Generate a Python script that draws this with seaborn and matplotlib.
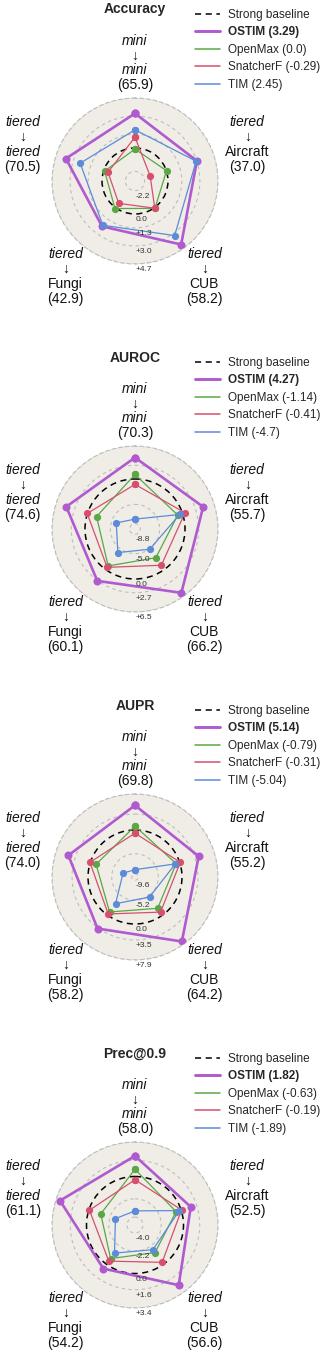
import numpy as np
import pandas as pd
import matplotlib
matplotlib.use('Agg')
import matplotlib.pyplot as plt
from matplotlib.lines import Line2D
import seaborn as sns

sns.set_style('white')
plt.rcParams['font.family'] = ['Liberation Sans', 'DejaVu Sans']

# ---------------- data ----------------
source = ['mini', 'tiered', 'tiered', 'tiered', 'tiered']
target = ['mini', 'Aircraft', 'CUB', 'Fungi', 'tiered']
metrics = ['Accuracy', 'AUROC', 'AUPR', 'Prec@0.9']
methods = ['OSTIM', 'OpenMax', 'SnatcherF', 'TIM']

baseline_accuracy = [65.9, 37.0, 58.2, 42.9, 70.5]
baseline_auroc = [70.3, 55.7, 66.2, 60.1, 74.6]
baseline_aupr = [69.8, 55.2, 64.2, 58.2, 74.0]
baseline_prec = [58.0, 52.5, 56.6, 54.2, 61.1]

# improvement over the strong baseline, order: mini, Aircraft, CUB, Fungi, tiered
ostim_accuracy = [3.25, 3.02, 4.28, 2.17, 3.73]
openmax_accuracy = [-0.1, 0.02, 0.08, 0.1, -0.1]
snatcher_accuracy = [1.02, -1.6, 0.06, -0.5, -0.43]
tim_accuracy = [1.71, 2.94, 3.24, 2.04, 2.32]

ostim_auroc = [4.23, 4.27, 5.69, 2.78, 4.38]
openmax_auroc = [0.9, -1.0, -2.86, -0.85, -1.89]
snatcher_auroc = [-1.06, 0.49, -1.02, -0.51, 0.05]
tim_auroc = [-7.9, -0.6, -4.93, -4.1, -5.97]

ostim_aupr = [5.41, 4.38, 7.18, 3.67, 5.06]
openmax_aupr = [0.85, -0.82, -1.83, -0.82, -1.33]
snatcher_aupr = [-0.69, 0.12, -0.78, -0.29, 0.09]
tim_aupr = [-8.7, -1.01, -4.88, -3.06, -7.55]

ostim_prec = [2.03, 1.0, 2.55, 0.53, 2.99]
openmax_prec = [0.71, -0.52, -1.42, -0.69, -1.23]
snatcher_prec = [-0.32, 0.04, -0.23, -0.38, -0.06]
tim_prec = [-3.39, -0.18, -1.78, -1.35, -2.75]

ticks_accuracy = [-2.2, 0.0, 1.3, 3.0, 4.7]
ticks_auroc = [-8.8, -5.0, 0.0, 2.7, 6.5]
ticks_aupr = [-9.6, -5.2, 0.0, 3.5, 7.9]
ticks_prec = [-4.0, -2.2, 0.0, 1.6, 3.4]

baselines = {'Accuracy': baseline_accuracy, 'AUROC': baseline_auroc,
             'AUPR': baseline_aupr, 'Prec@0.9': baseline_prec}
series = {
    'Accuracy': {'OSTIM': ostim_accuracy, 'OpenMax': openmax_accuracy,
                 'SnatcherF': snatcher_accuracy, 'TIM': tim_accuracy},
    'AUROC': {'OSTIM': ostim_auroc, 'OpenMax': openmax_auroc,
              'SnatcherF': snatcher_auroc, 'TIM': tim_auroc},
    'AUPR': {'OSTIM': ostim_aupr, 'OpenMax': openmax_aupr,
             'SnatcherF': snatcher_aupr, 'TIM': tim_aupr},
    'Prec@0.9': {'OSTIM': ostim_prec, 'OpenMax': openmax_prec,
                 'SnatcherF': snatcher_prec, 'TIM': tim_prec},
}
ticks = {'Accuracy': ticks_accuracy, 'AUROC': ticks_auroc,
         'AUPR': ticks_aupr, 'Prec@0.9': ticks_prec}

# ---------------- layout / style ----------------
FIG_W, FIG_H = 332, 1354
R_PX = 83
CX = 135
centers = [181 + 348 * i for i in range(4)]
rlim_inner = [-3.10, -9.85, -10.31, -4.78]

colors = {'OSTIM': '#b05ad0', 'OpenMax': '#5aa745',
          'SnatcherF': '#d6506e', 'TIM': '#5b8bd9'}
lws = {'OSTIM': 1.9, 'OpenMax': 0.9, 'SnatcherF': 0.9, 'TIM': 0.9}
mss = {'OSTIM': 5.8, 'OpenMax': 5.2, 'SnatcherF': 5.2, 'TIM': 5.2}
BG = '#f0ede6'
GRID = '#bdbdbd'
DASH_BASE = (0, (4, 3))

fig = plt.figure(figsize=(FIG_W / 100, FIG_H / 100), dpi=100)
angles = np.arange(5) * 2 * np.pi / 5
theta_closed = np.append(angles, angles[0])


def fmt_mean(v):
    return str(round(float(np.mean(v)), 2) + 0.0)


for i, metric in enumerate(metrics):
    cy = centers[i]
    ax = fig.add_axes([(CX - R_PX) / FIG_W, 1 - (cy + R_PX) / FIG_H,
                       2 * R_PX / FIG_W, 2 * R_PX / FIG_H], projection='polar')
    ax.set_theta_offset(np.pi / 2)
    ax.set_theta_direction(-1)
    tk = ticks[metric]
    rmax = tk[-1]
    c = rlim_inner[i]

    for m in methods:
        vals = series[metric][m]
        df = pd.DataFrame({'theta': theta_closed, 'delta': vals + [vals[0]]})
        sns.lineplot(data=df, x='theta', y='delta', sort=False, estimator=None,
                     color=colors[m], linewidth=lws[m], marker='o',
                     markersize=mss[m], markeredgewidth=0, ax=ax,
                     legend=False, zorder=3)
    ax.set_xlabel('')
    ax.set_ylabel('')
    ax.set_xlim(0, 2 * np.pi)
    ax.set_ylim(c, rmax)
    ax.set_facecolor(BG)
    ax.set_xticks(angles)
    ax.set_xticklabels([])
    ax.xaxis.grid(False)
    ax.set_yticks(tk)
    ax.set_yticklabels([])
    ax.yaxis.grid(True)
    ax.tick_params(length=0)
    for t, gl in zip(tk, ax.yaxis.get_gridlines()):
        if t == 0:
            gl.set_color('black')
            gl.set_linestyle(DASH_BASE)
            gl.set_linewidth(1.1)
        else:
            gl.set_color(GRID)
            gl.set_linestyle((0, (3, 3)))
            gl.set_linewidth(0.8)
    ax.spines['polar'].set_color(GRID)
    ax.spines['polar'].set_linestyle((0, (3, 3)))
    ax.spines['polar'].set_linewidth(0.8)

    # radial tick labels
    for t in tk:
        lab = '0.0' if t == 0 else (f'+{t:.1f}' if t > 0 else f'{t:.1f}')
        ax.annotate(lab, xy=(np.pi, t), xytext=(0.5, -1.5),
                    textcoords='offset points', ha='left', va='top',
                    fontsize=6, color='#333333', annotation_clip=False, zorder=5)

    # axis labels
    rlab = c + 118 / 83 * (rmax - c)
    base = baselines[metric]
    for k in range(5):
        rows = [(source[k], 'italic'), ('\u2193', 'normal'),
                (target[k], 'italic' if target[k] in ('mini', 'tiered') else 'normal'),
                (f'({base[k]:.1f})', 'normal')]
        for j, (txt, st) in enumerate(rows):
            ax.annotate(txt, xy=(angles[k], rlab), xytext=(0, (1.5 - j) * 10.6),
                        textcoords='offset points', ha='center', va='center',
                        fontsize=10, style=st, color='#111111',
                        annotation_clip=False)

    # title
    fig.text(CX / FIG_W, 1 - (cy - 171.5) / FIG_H, metric, ha='center',
             va='center', fontsize=10, fontweight='bold')

    # legend
    handles = [Line2D([], [], color='black', ls=DASH_BASE, lw=1.1)] + \
              [Line2D([], [], color=colors[m], lw=lws[m] + 0.2) for m in methods]
    labels = ['Strong baseline'] + [f'{m} ({fmt_mean(series[metric][m])})' for m in methods]
    leg = ax.legend(handles, labels, loc='upper left',
                    bbox_to_anchor=(195 / FIG_W, 1 - (cy - 172) / FIG_H),
                    bbox_transform=fig.transFigure, frameon=False, fontsize=8.5,
                    handlelength=2.1, handletextpad=0.7, labelspacing=0.46,
                    borderpad=0, borderaxespad=0)
    leg.get_texts()[1].set_fontweight('bold')

fig.savefig('out.png', dpi=100)
